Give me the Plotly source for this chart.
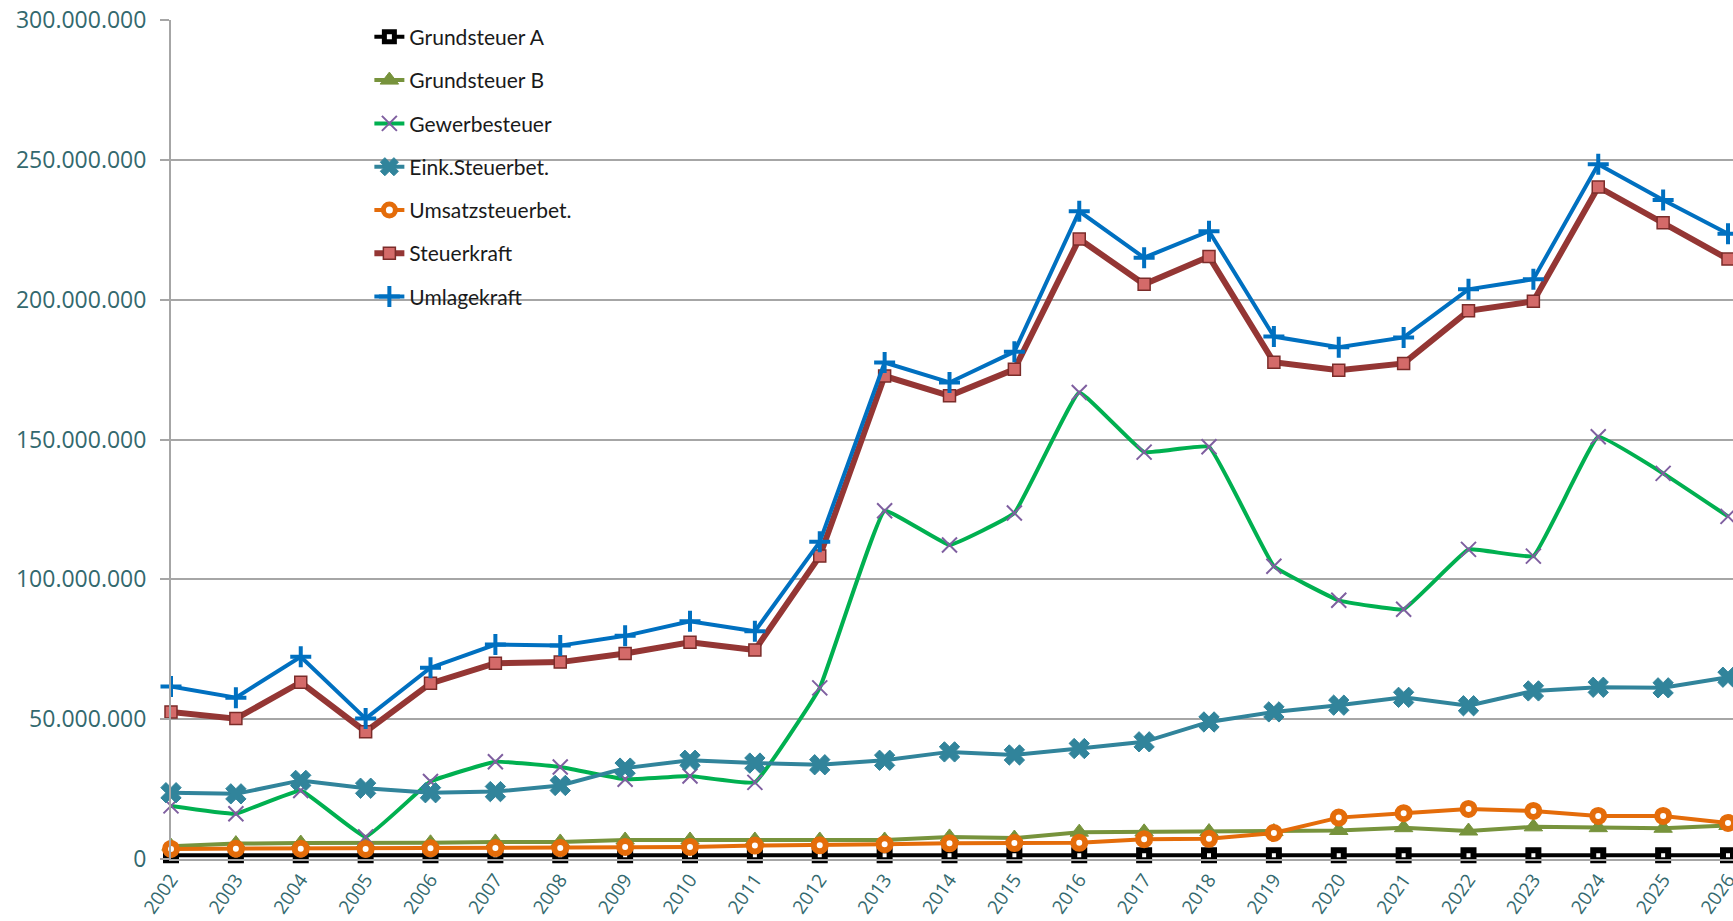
import plotly.graph_objects as go

# Jahre und Werte (in Euro)
years = [2002, 2003, 2004, 2005, 2006, 2007, 2008, 2009, 2010, 2011, 2012, 2013,
         2014, 2015, 2016, 2017, 2018, 2019, 2020, 2021, 2022, 2023, 2024, 2025, 2026]
year_labels = [str(y) for y in years]

grundsteuer_a = [1.3e6, 1.3e6, 1.3e6, 1.3e6, 1.3e6, 1.3e6, 1.3e6, 1.3e6, 1.3e6, 1.3e6,
                 1.3e6, 1.3e6, 1.3e6, 1.3e6, 1.3e6, 1.3e6, 1.3e6, 1.3e6, 1.3e6, 1.3e6,
                 1.3e6, 1.3e6, 1.3e6, 1.3e6, 1.3e6]
grundsteuer_b = [4.6e6, 5.5e6, 5.7e6, 5.7e6, 5.8e6, 6.1e6, 6.1e6, 6.8e6, 6.8e6, 6.8e6,
                 6.8e6, 6.8e6, 7.9e6, 7.5e6, 9.6e6, 9.7e6, 9.8e6, 9.8e6, 10.2e6, 11.2e6,
                 10.0e6, 11.5e6, 11.2e6, 11.0e6, 12.0e6]
gewerbesteuer = [19.0e6, 16.2e6, 24.5e6, 7.9e6, 27.7e6, 34.8e6, 32.9e6, 28.5e6, 29.7e6, 27.4e6,
                 61.2e6, 124.5e6, 112.3e6, 123.7e6, 166.8e6, 145.5e6, 147.4e6, 104.7e6, 92.5e6, 89.3e6,
                 110.7e6, 108.3e6, 151.0e6, 137.9e6, 122.5e6]
eink_steuerbet = [23.7e6, 23.3e6, 28.1e6, 25.3e6, 23.7e6, 24.1e6, 26.3e6, 32.5e6, 35.3e6, 34.3e6,
                  33.7e6, 35.3e6, 38.3e6, 37.2e6, 39.5e6, 41.9e6, 49.0e6, 52.6e6, 55.0e6, 57.8e6,
                  54.8e6, 60.1e6, 61.4e6, 61.2e6, 65.0e6]
umsatzsteuerbet = [3.6e6, 3.7e6, 3.7e6, 3.6e6, 3.8e6, 3.9e6, 3.9e6, 4.3e6, 4.3e6, 4.8e6,
                   4.9e6, 5.3e6, 5.6e6, 5.7e6, 5.8e6, 7.1e6, 7.2e6, 9.3e6, 14.8e6, 16.4e6,
                   17.9e6, 17.2e6, 15.4e6, 15.4e6, 12.9e6]
steuerkraft = [52.6e6, 50.2e6, 63.2e6, 45.5e6, 62.8e6, 70.0e6, 70.4e6, 73.5e6, 77.5e6, 74.7e6,
               108.3e6, 172.7e6, 165.6e6, 175.1e6, 221.7e6, 205.5e6, 215.4e6, 177.6e6, 174.8e6, 177.2e6,
               196.0e6, 199.4e6, 240.3e6, 227.5e6, 214.5e6]
umlagekraft = [61.7e6, 57.7e6, 72.3e6, 50.2e6, 68.4e6, 76.7e6, 76.3e6, 79.8e6, 85.0e6, 81.4e6,
               113.4e6, 177.5e6, 170.4e6, 181.4e6, 231.6e6, 215.0e6, 224.5e6, 186.8e6, 183.0e6, 186.5e6,
               203.7e6, 207.3e6, 248.4e6, 235.6e6, 223.6e6]

series = [
    dict(name="Grundsteuer A", y=grundsteuer_a, line=dict(color="#000000", width=4),
         marker=dict(symbol="square", size=10, color="#ffffff",
                     line=dict(color="#000000", width=6))),
    dict(name="Grundsteuer B", y=grundsteuer_b, line=dict(color="#77933C", width=4),
         marker=dict(symbol="triangle-up", size=16, color="#77933C",
                     line=dict(color="#77933C", width=1))),
    dict(name="Gewerbesteuer", y=gewerbesteuer,
         line=dict(color="#00B050", width=4, shape="spline", smoothing=0.25),
         marker=dict(symbol="x-thin", size=15, color="#7F5FA0",
                     line=dict(color="#7F5FA0", width=2))),
    dict(name="Eink.Steuerbet.", y=eink_steuerbet, line=dict(color="#31849B", width=4),
         marker=dict(symbol="x", size=18, color="#31849B",
                     line=dict(color="#31849B", width=1))),
    dict(name="Umsatzsteuerbet.", y=umsatzsteuerbet, line=dict(color="#E46C0A", width=4),
         marker=dict(symbol="circle", size=12, color="#ffffff",
                     line=dict(color="#E46C0A", width=6))),
    dict(name="Steuerkraft", y=steuerkraft, line=dict(color="#943634", width=6),
         marker=dict(symbol="square", size=12, color="#D46A69",
                     line=dict(color="#7B2C2A", width=1.5))),
    dict(name="Umlagekraft", y=umlagekraft, line=dict(color="#0070C0", width=4),
         marker=dict(symbol="cross-thin", size=15, color="#0070C0",
                     line=dict(color="#0070C0", width=4))),
]

fig = go.Figure()
for i, s in enumerate(series):
    fig.add_trace(go.Scatter(
        x=years, y=s["y"], name=s["name"], mode="lines+markers",
        line=s["line"], marker=s["marker"], cliponaxis=False,
        legendgroup=f"g{i}",
    ))

axis_color = "#33696E"
grid_color = "#A6A6A6"

fig.update_layout(
    width=1733, height=921,
    margin=dict(l=171, r=0, t=20, b=62, pad=0),
    paper_bgcolor="#ffffff", plot_bgcolor="#ffffff",
    separators=",.",
    showlegend=True,
    legend=dict(
        x=0.127, y=1.004, xanchor="left", yanchor="top",
        bgcolor="rgba(0,0,0,0)", font=dict(family="Lato", size=21, color="#1a1a1a"),
        tracegroupgap=13, traceorder="grouped",
    ),
    xaxis=dict(
        range=[2002, 2026.077], tickmode="array", tickvals=years, ticktext=year_labels,
        tickangle=-55, tickfont=dict(family="Open Sans", size=19, color=axis_color),
        ticklabeloverflow="allow",
        showgrid=False, showline=True, linecolor=grid_color, linewidth=2,
        ticks="", zeroline=False, automargin=False,
    ),
    yaxis=dict(
        range=[0, 300e6], dtick=50e6, tick0=0, tickformat=",d",
        tickfont=dict(family="Open Sans", size=23, color=axis_color),
        showgrid=True, gridcolor=grid_color, gridwidth=2,
        showline=True, linecolor=grid_color, linewidth=2,
        ticks="outside", ticklen=9, tickcolor=grid_color, tickwidth=2,
        ticklabelstandoff=9, zeroline=False, automargin=False,
    ),
)

fig.write_html("out.html")
